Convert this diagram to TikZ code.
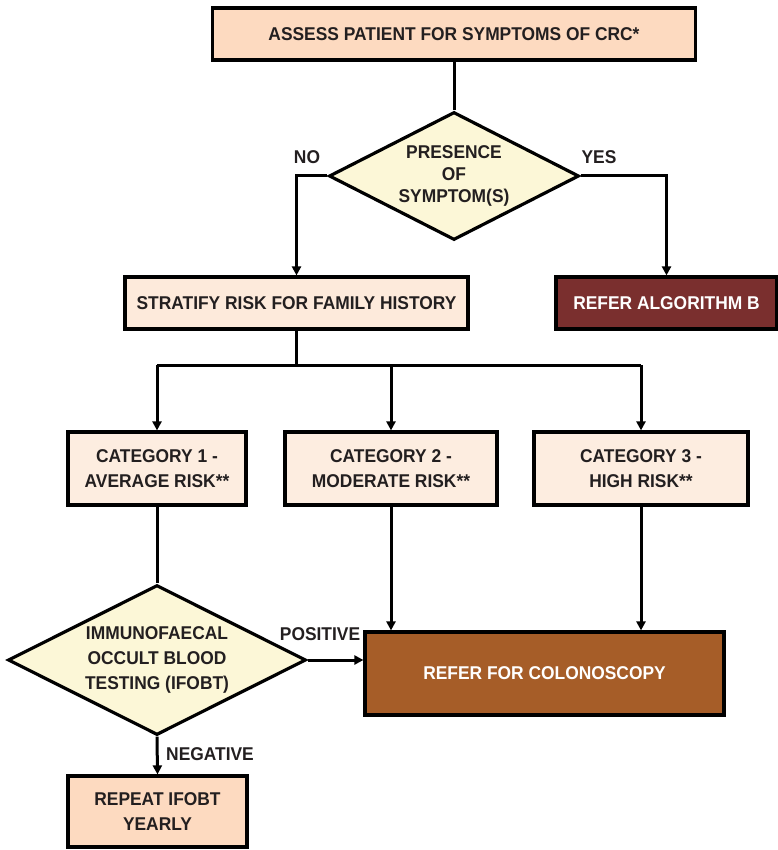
\documentclass[tikz,border=0pt]{standalone}
\usepackage{fontspec}
\setmainfont[FakeStretch=0.94]{Liberation Sans}
\usetikzlibrary{shapes.geometric,arrows.meta}
\definecolor{txt}{HTML}{231F20}
\definecolor{peach}{HTML}{FDDAC0}
\definecolor{lightpeach}{HTML}{FDEADB}
\definecolor{catfill}{HTML}{FDEDE0}
\definecolor{dyellow}{HTML}{FCF7D7}
\definecolor{maroon}{HTML}{7A2F2E}
\definecolor{rust}{HTML}{A65D28}
\begin{document}
\begin{tikzpicture}[x=1pt,y=-1pt,
  every node/.style={font=\bfseries\fontsize{18.5}{25}\selectfont, text=txt},
  box/.style={draw=black, line width=3.2pt, rectangle, align=center, inner sep=0pt},
  dia/.style={draw=black, line width=3.2pt, diamond, align=center, inner sep=0pt, fill=dyellow},
  conn/.style={line width=3pt, draw=black},
  arr/.style={conn, -{Triangle[length=9pt,width=9pt]}},
  lbl/.style={inner sep=0pt}]
\useasboundingbox (0,0) rectangle (777,850);

\node[box, fill=peach, minimum width=483pt, minimum height=52pt] (top) at (454,34) {ASSESS PATIENT FOR SYMPTOMS OF CRC*};
\node[dia, minimum width=250pt, minimum height=128pt, aspect=1.95,
      font=\bfseries\fontsize{18.5}{22}\selectfont] (d1) at (454,176) {PRESENCE\\OF\\SYMPTOM(S)};
\node[box, fill=lightpeach, minimum width=343pt, minimum height=52pt] (strat) at (296.5,303) {STRATIFY RISK FOR FAMILY HISTORY};
\node[box, fill=maroon, minimum width=221pt, minimum height=52pt, text=white] (algb) at (666.5,303) {REFER ALGORITHM B};

\node[box, fill=catfill, minimum width=178pt, minimum height=73pt] (cat1) at (157,468.5) {CATEGORY 1 -\\AVERAGE RISK**};
\node[box, fill=catfill, minimum width=212pt, minimum height=73pt] (cat2) at (391,468.5) {CATEGORY 2 -\\MODERATE RISK**};
\node[box, fill=catfill, minimum width=214pt, minimum height=73pt] (cat3) at (641,468.5) {CATEGORY 3 -\\HIGH RISK**};

\node[dia, minimum width=298pt, minimum height=150pt, aspect=2] (d2) at (157,660) {IMMUNOFAECAL\\OCCULT BLOOD\\TESTING (IFOBT)};
\node[box, fill=rust, minimum width=359pt, minimum height=83pt, text=white] (colon) at (544.5,673.5) {REFER FOR COLONOSCOPY};
\node[box, fill=peach, minimum width=179pt, minimum height=71pt] (rep) at (157.5,811.5) {REPEAT IFOBT\\YEARLY};

\node[lbl] (no) at (307,157) {NO};
\node[lbl] (yes) at (599,157) {YES};
\node[lbl] (pos) at (320,634) {POSITIVE};
\node[lbl] (neg) at (210,754) {NEGATIVE};

\draw[conn] (top.south) -- (d1.north);
\draw[arr] (d1.west) -| (strat.north);
\draw[arr] (d1.east) -| (algb.north);

\coordinate (busm) at (strat.south |- 0,365);
\coordinate (busl) at (cat1.north |- busm);
\coordinate (busr) at (cat3.north |- busm);
\draw[conn] (strat.south) -- (busm);
\draw[conn] (busl) -- (busr);
\draw[arr] (busl) -- (cat1.north);
\draw[arr] (cat2.north |- busm) -- (cat2.north);
\draw[arr] (busr) -- (cat3.north);

\draw[conn] (cat1.south) -- (d2.north);
\draw[arr] (d2.east) -- (d2.east -| colon.west);
\draw[arr] (cat2.south) -- (cat2.south |- colon.north);
\draw[arr] (cat3.south) -- (cat3.south |- colon.north);
\draw[arr] (d2.south) -- (rep.north);
\end{tikzpicture}
\end{document}
